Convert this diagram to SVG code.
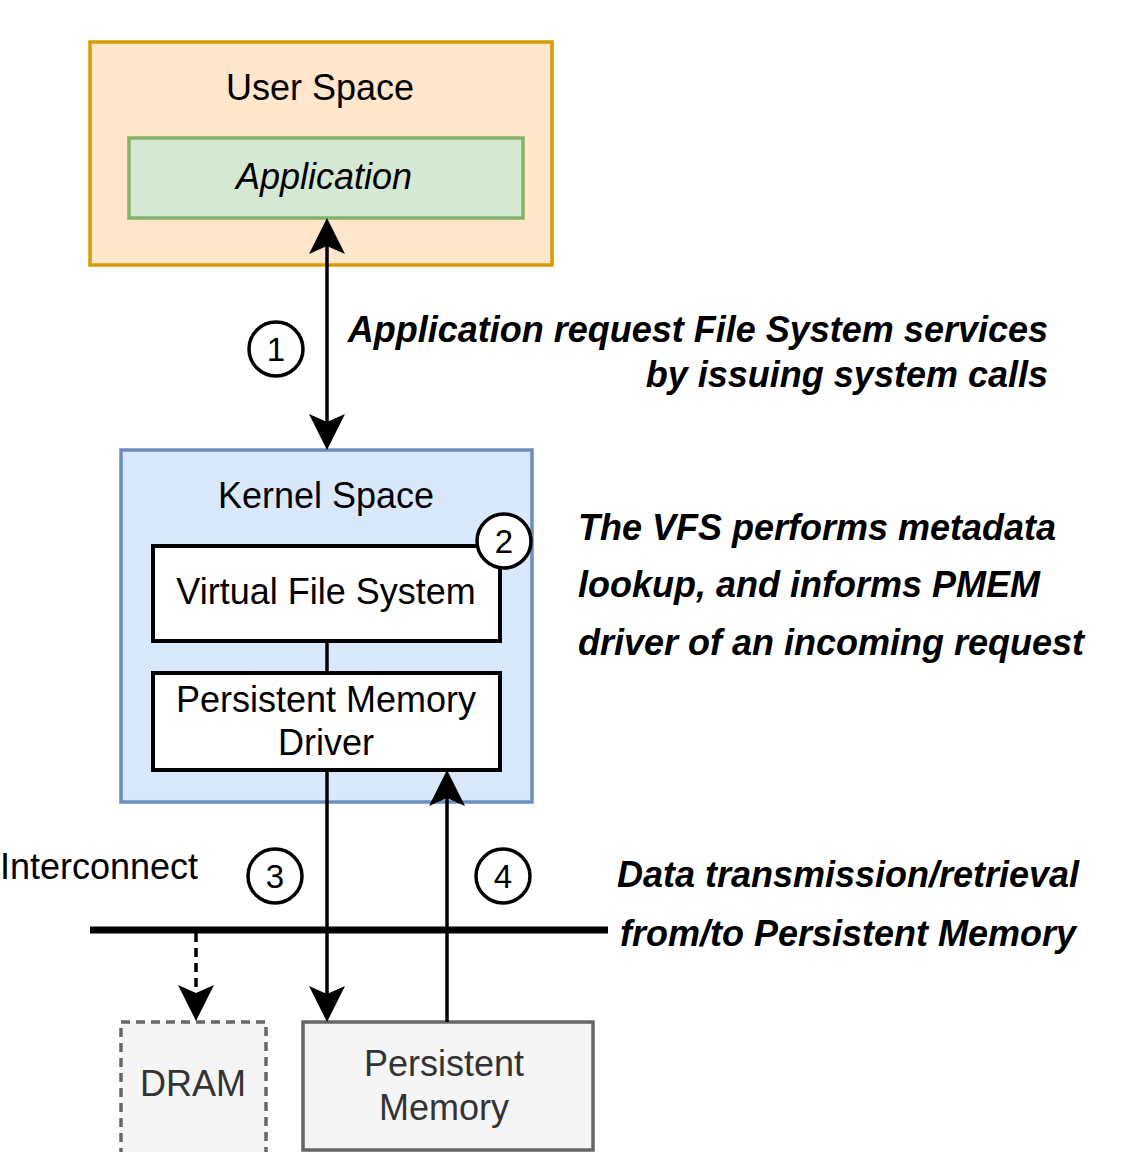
<svg xmlns="http://www.w3.org/2000/svg" width="1136" height="1152" viewBox="0 0 1136 1152">
<style>
text{font-family:"Liberation Sans",Arial,sans-serif;font-size:36px;fill:#000}
.c{text-anchor:middle}
.note{font-weight:bold;font-style:italic}
.num{font-size:33px;text-anchor:middle}
.box{fill:#fff;stroke:#000;stroke-width:4}
.circ{fill:#fff;stroke:#000;stroke-width:3.5}
.edge{fill:none;stroke:#000;stroke-width:3.5}
.grey{fill:#f5f5f5;stroke:#666;stroke-width:3.5}
.gt{fill:#333}
</style>
<defs>
<marker id="arr" markerUnits="userSpaceOnUse" markerWidth="40" markerHeight="40" refX="8" refY="18" orient="auto-start-reverse" viewBox="0 0 40 40">
<path d="M36,18 L0,0 L8,18 L0,36 Z" fill="#000"/>
</marker>
</defs>
<g id="user-space">
<rect x="90" y="42" width="462" height="223" fill="#ffe6cc" stroke="#d79b00" stroke-width="3.5"/>
<text class="c" x="320" y="100">User Space</text>
</g>
<g id="application">
<rect x="129" y="138" width="394" height="80" fill="#d5e8d4" stroke="#82b366" stroke-width="3.5"/>
<text class="c" x="324" y="189" font-style="italic">Application</text>
</g>
<g id="kernel-space">
<rect x="121" y="450" width="411" height="352" fill="#dae8fc" stroke="#6c8ebf" stroke-width="3.5"/>
<text class="c" x="326" y="508">Kernel Space</text>
</g>
<g id="vfs">
<rect class="box" x="153" y="546" width="347" height="95"/>
<text class="c" x="326" y="604">Virtual File System</text>
</g>
<g id="pmem-driver">
<rect class="box" x="153" y="673" width="347" height="97"/>
<text class="c" x="326" y="712">Persistent Memory</text>
<text class="c" x="326" y="755">Driver</text>
</g>
<g id="dram">
<rect class="grey" x="121" y="1022" width="145" height="140" stroke-dasharray="9 6"/>
<text class="c gt" x="193" y="1096">DRAM</text>
</g>
<g id="pmem">
<rect class="grey" x="303" y="1022" width="290" height="128"/>
<text class="c gt" x="444" y="1076">Persistent</text>
<text class="c gt" x="444" y="1120">Memory</text>
</g>
<g id="interconnect">
<line x1="90" y1="930" x2="608" y2="930" stroke="#000" stroke-width="7"/>
<text x="0" y="879">Interconnect</text>
</g>
<g id="connectors">
<line class="edge" x1="327" y1="246" x2="327" y2="422" marker-start="url(#arr)" marker-end="url(#arr)"/>
<line class="edge" x1="327" y1="641" x2="327" y2="673"/>
<line class="edge" x1="327" y1="770" x2="327" y2="994" marker-end="url(#arr)"/>
<line class="edge" x1="447" y1="1022" x2="447" y2="798" marker-end="url(#arr)"/>
<line class="edge" x1="196" y1="933" x2="196" y2="993" stroke-dasharray="9 6" marker-end="url(#arr)"/>
</g>
<g id="step1">
<circle class="circ" cx="276" cy="349" r="27"/>
<text class="num" x="276" y="361">1</text>
</g>
<g id="step2">
<circle class="circ" cx="504" cy="541" r="27"/>
<text class="num" x="504" y="553">2</text>
</g>
<g id="step3">
<circle class="circ" cx="275" cy="876" r="27"/>
<text class="num" x="275" y="888">3</text>
</g>
<g id="step4">
<circle class="circ" cx="503" cy="876" r="27"/>
<text class="num" x="503" y="888">4</text>
</g>
<g id="notes">
<text class="note" x="1048" y="342" text-anchor="end">Application request File System services</text>
<text class="note" x="1048" y="387" text-anchor="end">by issuing system calls</text>
<text class="note" x="578" y="540">The VFS performs metadata</text>
<text class="note" x="578" y="597">lookup, and informs PMEM</text>
<text class="note" x="578" y="655">driver of an incoming request</text>
<text class="note c" x="848" y="887">Data transmission/retrieval</text>
<text class="note c" x="848" y="946">from/to Persistent Memory</text>
</g>
</svg>
